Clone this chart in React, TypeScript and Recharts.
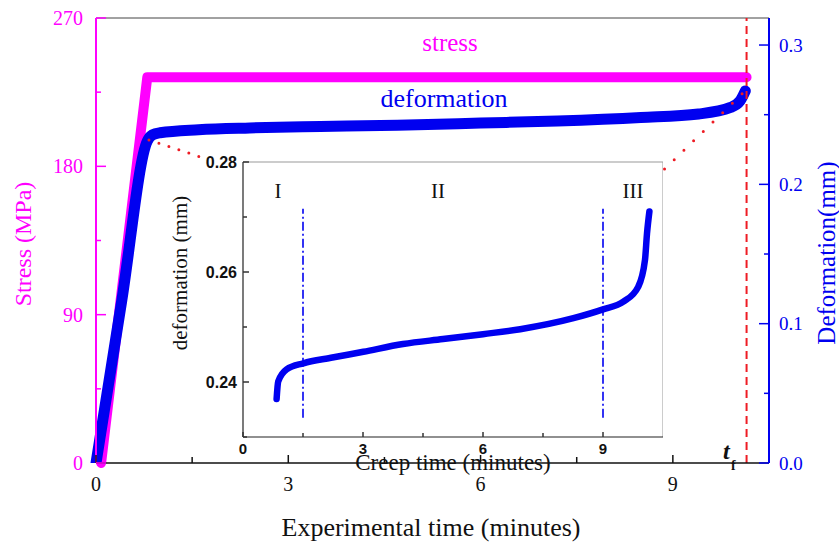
import { CartesianGrid, Line, LineChart, ReferenceLine, XAxis, YAxis } from "recharts";

const SERIF = "'Liberation Serif', 'Times New Roman', serif";
const SANS = "'Liberation Sans', Arial, sans-serif";
const MAGENTA = "#ff00ff";
const BLUE = "#0000f0";
const RED = "#ee1c24";

// main plot: experimental time (min)
const timeTicks = [0, 1.5, 3, 4.5, 6, 7.5, 9];
const timeLabels = [0, 3, 6, 9];

// stress (MPa)
const stressTicks = [0, 45, 90, 135, 180, 225, 270];
const stressLabels = [0, 90, 180, 270];
const stressTime = [0.08, 0.8, 10.15];
const stressMPa = [0, 234, 234];

// deformation (mm): loading ramp then creep
const defTicks = [0, 0.05, 0.1, 0.15, 0.2, 0.25, 0.3];
const defLabels = [0, 0.1, 0.2, 0.3];
const defTime = [0, 0.4, 0.8, 0.88, 1.0, 1.6, 2.4, 3.5, 4.7, 6.0, 7.2, 8.5, 9.4, 9.9, 10.05, 10.13];
const defMm = [0, 0.116, 0.231, 0.2355, 0.237, 0.2392, 0.2405, 0.2415, 0.2425, 0.244, 0.2455, 0.248, 0.2505, 0.2552, 0.26, 0.267];

// inset: creep stage only
const creepTicks = [0, 1.5, 3, 4.5, 6, 7.5, 9];
const creepLabels = [0, 3, 6, 9];
const creepDefTicks = [0.23, 0.24, 0.25, 0.26, 0.27, 0.28];
const creepDefLabels = [0.24, 0.26, 0.28];
const creepTime = [0.84, 0.88, 1.09, 1.51, 2.2, 3.01, 4.0, 5.0, 6.0, 6.93, 8.26, 9.0, 9.51, 9.88, 10.05, 10.1, 10.16];
const creepDef = [0.2369, 0.2401, 0.2423, 0.2434, 0.2444, 0.2455, 0.2469, 0.2478, 0.2487, 0.2496, 0.2516, 0.2532, 0.2546, 0.2573, 0.2622, 0.267, 0.271];
const stageNames = ["I", "II", "III"];

const failureTime = 10.15;
const stageBounds = [1.5, 9];

const zip = (xs: number[], ys: number[]) => xs.map((t, i) => ({ t, v: ys[i] }));

type TickStyle = {
  side: "left" | "right" | "bottom";
  labelled: number[];
  fmt: (v: number) => string;
  color: string;
  family: string;
  size: number;
  weight?: string;
  long: number;
  short: number;
  gap: number;
  tickColor?: string;
};

// ticks point into the plot; only the major ones carry a label
function makeTick(s: TickStyle) {
  return (p: any) => {
    const v = p.payload.value as number;
    const major = s.labelled.includes(v);
    const len = major ? s.long : s.short;
    const { x, y } = p;
    const stroke = s.tickColor ?? s.color;
    const font = { fontFamily: s.family, fontSize: s.size, fontWeight: s.weight ?? "normal", fill: s.color };
    if (s.side === "bottom") {
      return (
        <g>
          <line x1={x} x2={x} y1={y} y2={y - len} stroke={stroke} strokeWidth={1.5} />
          {major && (
            <text x={x} y={y + s.gap} textAnchor="middle" {...font}>
              {s.fmt(v)}
            </text>
          )}
        </g>
      );
    }
    const dir = s.side === "left" ? 1 : -1;
    return (
      <g>
        <line x1={x} x2={x + dir * len} y1={y} y2={y} stroke={stroke} strokeWidth={1.5} />
        {major && (
          <text x={x - dir * s.gap} y={y} dy="0.35em" textAnchor={s.side === "left" ? "end" : "start"} {...font}>
            {s.fmt(v)}
          </text>
        )}
      </g>
    );
  };
}

function CreepInset() {
  return (
    <LineChart width={503} height={330} margin={{ top: 12, right: 0, bottom: 0, left: 38 }}>
      <CartesianGrid fill="#fff" horizontal={false} vertical={false} />
      <XAxis
        type="number"
        dataKey="t"
        domain={[0, 10.5]}
        ticks={creepTicks}
        interval={0}
        height={43}
        tickSize={0}
        tickMargin={0}
        tickLine={false}
        axisLine={{ stroke: "#222", strokeWidth: 1.2 }}
        tick={makeTick({ side: "bottom", labelled: creepLabels, fmt: (v) => String(v), color: "#111", family: SANS, size: 15, weight: "bold", long: 5, short: 4, gap: 17, tickColor: "#333" })}
      />
      <YAxis
        type="number"
        domain={[0.23, 0.28]}
        ticks={creepDefTicks}
        interval={0}
        width={45}
        allowDataOverflow
        tickSize={0}
        tickMargin={0}
        tickLine={false}
        axisLine={{ stroke: "#222", strokeWidth: 1.2 }}
        tick={makeTick({ side: "left", labelled: creepDefLabels, fmt: (v) => v.toFixed(2), color: "#111", family: SANS, size: 16, weight: "bold", long: 6, short: 4, gap: 6, tickColor: "#333" })}
      />
      <ReferenceLine y={0.28} stroke="#999" strokeWidth={1} />
      <ReferenceLine x={10.5} stroke="#999" strokeWidth={1} />
      {stageBounds.map((b) => (
        <ReferenceLine
          key={b}
          segment={[{ x: b, y: 0.2335 }, { x: b, y: 0.2715 }]}
          stroke={BLUE}
          strokeWidth={1.6}
          strokeDasharray="9 3 2 3"
        />
      ))}
      <Line
        data={zip(creepTime, creepDef)}
        dataKey="v"
        type="monotone"
        stroke={BLUE}
        strokeWidth={6.5}
        strokeLinecap="round"
        strokeLinejoin="round"
        dot={false}
        isAnimationActive={false}
      />
      <g fontFamily={SERIF} fontSize={21} fill="#111" textAnchor="middle">
        <text x={118} y={48}>{stageNames[0]}</text>
        <text x={278} y={48}>{stageNames[1]}</text>
        <text x={473} y={48}>{stageNames[2]}</text>
      </g>
      <text transform="translate(20,123) rotate(-90)" textAnchor="middle" dy="0.35em" fontFamily={SERIF} fontSize={21} fill="#111">
        deformation (mm)
      </text>
      <text x={293} y={320} textAnchor="middle" fontFamily={SERIF} fontSize={23} fill="#111">
        Creep time (minutes)
      </text>
    </LineChart>
  );
}

export default function App() {
  return (
    <div style={{ position: "absolute", left: 0, top: 0, width: 839, height: 546, background: "#fff" }}>
      <LineChart width={839} height={546} margin={{ top: 18, right: 10, bottom: 33, left: 36 }}>
        <XAxis
          type="number"
          dataKey="t"
          domain={[0, 10.5]}
          ticks={timeTicks}
          interval={0}
          height={50}
          tickSize={0}
          tickMargin={0}
          tickLine={false}
          axisLine={{ stroke: "#111", strokeWidth: 1.5 }}
          tick={makeTick({ side: "bottom", labelled: timeLabels, fmt: (v) => String(v), color: "#111", family: SERIF, size: 20, long: 8, short: 6, gap: 28 })}
        />
        <YAxis
          yAxisId="s"
          type="number"
          domain={[0, 270]}
          ticks={stressTicks}
          interval={0}
          width={60}
          tickSize={0}
          tickMargin={0}
          tickLine={false}
          axisLine={{ stroke: MAGENTA, strokeWidth: 2 }}
          tick={makeTick({ side: "left", labelled: stressLabels, fmt: (v) => String(v), color: MAGENTA, family: SERIF, size: 20, long: 10, short: 5, gap: 13 })}
        />
        <YAxis
          yAxisId="d"
          orientation="right"
          type="number"
          domain={[0, 0.3194]}
          ticks={defTicks}
          interval={0}
          width={60}
          allowDataOverflow
          tickSize={0}
          tickMargin={0}
          tickLine={false}
          axisLine={{ stroke: BLUE, strokeWidth: 2 }}
          tick={makeTick({ side: "right", labelled: defLabels, fmt: (v) => v.toFixed(1), color: BLUE, family: SERIF, size: 19, long: 10, short: 5, gap: 10 })}
        />
        <ReferenceLine yAxisId="s" y={270} stroke="#444" strokeWidth={1} />
        <Line
          yAxisId="s"
          data={zip(stressTime, stressMPa)}
          dataKey="v"
          type="linear"
          stroke={MAGENTA}
          strokeWidth={10}
          strokeLinecap="round"
          strokeLinejoin="round"
          dot={false}
          isAnimationActive={false}
        />
        <Line
          yAxisId="d"
          data={zip(defTime, defMm)}
          dataKey="v"
          type="monotone"
          stroke={BLUE}
          strokeWidth={11}
          strokeLinecap="round"
          strokeLinejoin="round"
          dot={false}
          isAnimationActive={false}
        />
        <ReferenceLine yAxisId="s" x={failureTime} stroke={RED} strokeWidth={2} strokeDasharray="8 5" />
        <ReferenceLine
          yAxisId="d"
          segment={[{ x: 0.826, y: 0.2319 }, { x: 1.7, y: 0.2186 }]}
          stroke={RED}
          strokeWidth={3}
          strokeLinecap="round"
          strokeDasharray="0 10.5"
        />
        <ReferenceLine
          yAxisId="d"
          segment={[{ x: 8.87, y: 0.211 }, { x: 10.11, y: 0.2663 }]}
          stroke={RED}
          strokeWidth={3}
          strokeLinecap="round"
          strokeDasharray="0 13.5"
        />
        <text x={450} y={51} textAnchor="middle" fontFamily={SERIF} fontSize={25} fill={MAGENTA}>
          stress
        </text>
        <text x={444} y={107} textAnchor="middle" fontFamily={SERIF} fontSize={26} fill={BLUE}>
          deformation
        </text>
        <text transform="translate(23,244) rotate(-90)" textAnchor="middle" dy="0.35em" fontFamily={SERIF} fontSize={24} fill={MAGENTA}>
          Stress (MPa)
        </text>
        <text transform="translate(826,253) rotate(-90)" textAnchor="middle" dy="0.35em" fontFamily={SERIF} fontSize={25} fill={BLUE}>
          Deformation(mm)
        </text>
        <text x={431} y={536} textAnchor="middle" fontFamily={SERIF} fontSize={26} fill="#111">
          Experimental time (minutes)
        </text>
        <text x={723} y={459} fontFamily={SERIF} fontSize={24} fontStyle="italic" fontWeight="bold" fill="#111">
          t
        </text>
        <text x={731} y={470} fontFamily={SERIF} fontSize={14} fontWeight="bold" fill="#111">
          f
        </text>
      </LineChart>
      <div style={{ position: "absolute", left: 160, top: 150 }}>
        <CreepInset />
      </div>
    </div>
  );
}
